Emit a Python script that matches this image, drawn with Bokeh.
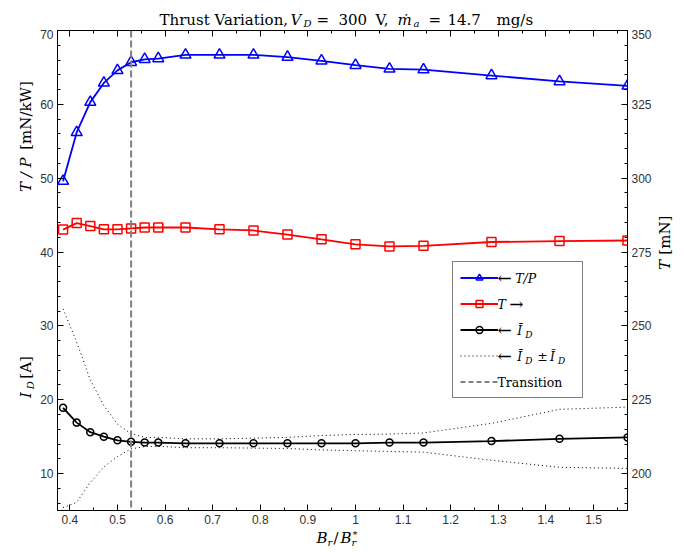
import math
from bokeh.plotting import figure
from bokeh.layouts import column, row
from bokeh.models import (Range1d, LinearAxis, FixedTicker, Span, Label, Legend,
                          LegendItem, CustomJSTickFormatter)
from bokeh.embed import file_html
from bokeh.resources import INLINE

# ---------------- data ----------------
br_ratio = [0.3857, 0.4143, 0.4429, 0.4714, 0.5, 0.5286, 0.5571, 0.5857, 0.6429,
            0.7143, 0.7857, 0.8571, 0.9286, 1.0, 1.0714, 1.1429, 1.2857, 1.4286, 1.5714]
thrust_to_power = [49.6, 56.2, 60.3, 62.9, 64.6, 65.7, 66.1, 66.2, 66.7,
                   66.7, 66.7, 66.4, 65.9, 65.3, 64.8, 64.7, 63.9, 63.1, 62.5]
thrust = [282.6, 284.8, 283.8, 282.7, 282.7, 283.0, 283.3, 283.3, 283.3,
          282.7, 282.3, 280.9, 279.3, 277.6, 276.9, 277.1, 278.4, 278.7, 278.9]
current_mean = [18.9, 16.9, 15.6, 15.0, 14.5, 14.3, 14.2, 14.2, 14.1,
                14.1, 14.1, 14.1, 14.1, 14.1, 14.2, 14.2, 14.4, 14.7, 14.9]
current_upper = [32.3, 27.8, 22.7, 19.2, 16.7, 15.4, 14.9, 14.9, 14.7,
                 14.7, 14.8, 14.9, 15.15, 15.3, 15.35, 15.5, 16.8, 18.7, 19.0]
current_lower = [5.4, 6.1, 8.8, 10.9, 12.3, 13.35, 13.65, 13.7, 13.5,
                 13.5, 13.45, 13.4, 13.2, 13.1, 13.0, 12.9, 11.8, 10.85, 10.7]
transition_br = [0.5286]

x_tick_values = [0.4, 0.5, 0.6, 0.7, 0.8, 0.9, 1.0, 1.1, 1.2, 1.3, 1.4, 1.5]
x_tick_labels = ["0.4", "0.5", "0.6", "0.7", "0.8", "0.9", "1", "1.1", "1.2", "1.3", "1.4", "1.5"]
x_minor_values = [0.4, 0.45, 0.5, 0.55, 0.6, 0.65, 0.7, 0.75, 0.8, 0.85, 0.9, 0.95, 1.0,
                  1.05, 1.1, 1.15, 1.2, 1.25, 1.3, 1.35, 1.4, 1.45, 1.5, 1.55]
left_tick_values = [10, 20, 30, 40, 50, 60, 70]
left_minor_values = [6, 8, 10, 12, 14, 16, 18, 20, 22, 24, 26, 28, 30, 32, 34, 36, 38, 40,
                     42, 44, 46, 48, 50, 52, 54, 56, 58, 60, 62, 64, 66, 68, 70]
right_tick_values = [200, 225, 250, 275, 300, 325, 350]
right_minor_values = [190, 195, 200, 205, 210, 215, 220, 225, 230, 235, 240, 245, 250, 255,
                      260, 265, 270, 275, 280, 285, 290, 295, 300, 305, 310, 315, 320, 325,
                      330, 335, 340, 345, 350]

# ---------------- page layout (pixels) ----------------
W, H = 684, 552
FL, FR, FT, FB = 55, 629, 30, 510          # plot frame on the page
LEFT_W, RIGHT_W = 37, 30                    # side text strips
TOP_H, BOTTOM_H = 29, 24                    # title strip / x-label strip
MID_H = H - TOP_H - BOTTOM_H
MAIN_W = W - LEFT_W - RIGHT_W
XMIN, XMAX = 0.374, 1.5714
YMIN, YMAX = 5.0, 70.0
RMIN, RMAX = 187.5, 350.0

SERIF = "DejaVu Serif"
TICK_FONT = "Liberation Sans"
SHIFT = 0.4          # Bokeh draws "alphabetic" text about 0.4 em low; compensate


def dx(px):
    return XMIN + (px - FL) / (FR - FL) * (XMAX - XMIN)


def dy(py):
    return YMAX - (py - FT) / (FB - FT) * (YMAX - YMIN)


def blank(fig):
    fig.outline_line_color = None
    fig.background_fill_color = "white"
    fig.border_fill_color = "white"
    return fig


def strip(w, h):
    f = figure(width=w, height=h, x_range=Range1d(0, w), y_range=Range1d(h, 0),
               output_backend="svg", toolbar_location=None, x_axis_type=None,
               y_axis_type=None, min_border=0, min_border_left=0, min_border_right=0,
               min_border_top=0, min_border_bottom=0)
    return blank(f)


def put(fig, text, px, py, size, style="normal", rotated=False, to_data=None):
    """px, py: wanted baseline start in the figure's pixel space."""
    if rotated:
        px -= SHIFT * size
    else:
        py -= SHIFT * size
    x, y = (px, py) if to_data is None else to_data(px, py)
    fig.add_layout(Label(x=x, y=y, text=text, text_font=SERIF, text_font_size=f"{size}px",
                         text_font_style=style, text_align="left",
                         text_baseline="alphabetic", angle=math.pi / 2 if rotated else 0.0,
                         text_color="black"))


# ---------------- main plot ----------------
p = figure(width=MAIN_W, height=MID_H, x_range=Range1d(XMIN, XMAX),
           y_range=Range1d(YMIN, YMAX), output_backend="svg", toolbar_location=None,
           min_border_left=FL - LEFT_W, min_border_right=LEFT_W + MAIN_W - FR,
           min_border_top=FT - TOP_H, min_border_bottom=TOP_H + MID_H - FB)
blank(p)
p.extra_y_ranges = {"right": Range1d(RMIN, RMAX)}
p.grid.visible = False
p.outline_line_color = "black"
p.outline_line_width = 1


def style_axis(ax):
    ax.axis_line_color = "black"
    ax.major_tick_line_color = "black"
    ax.minor_tick_line_color = "black"
    ax.major_tick_in = 6
    ax.major_tick_out = 0
    ax.minor_tick_in = 3
    ax.minor_tick_out = 0
    ax.major_label_text_font = TICK_FONT
    ax.major_label_text_font_size = "12px"
    ax.major_label_text_color = "#333333"
    ax.major_label_standoff = 4


xaxis = p.xaxis[0]
xaxis.ticker = FixedTicker(ticks=x_tick_values, minor_ticks=x_minor_values)
xaxis.major_label_overrides = dict(zip(x_tick_values, x_tick_labels))
style_axis(xaxis)

yaxis = p.yaxis[0]
yaxis.ticker = FixedTicker(ticks=left_tick_values, minor_ticks=left_minor_values)
style_axis(yaxis)

top_axis = LinearAxis(ticker=FixedTicker(ticks=x_tick_values, minor_ticks=x_minor_values),
                      formatter=CustomJSTickFormatter(code="return ''"))
style_axis(top_axis)
top_axis.major_label_text_font_size = "0px"
top_axis.major_label_text_color = None
top_axis.major_label_standoff = 0
p.add_layout(top_axis, "above")

right_axis = LinearAxis(y_range_name="right",
                        ticker=FixedTicker(ticks=right_tick_values, minor_ticks=right_minor_values))
style_axis(right_axis)
p.add_layout(right_axis, "right")

# series
dot_up = p.line(br_ratio, current_upper, line_color="black", line_width=1, line_dash="1 3")
dot_lo = p.line(br_ratio, current_lower, line_color="black", line_width=1, line_dash="1 3")

p.add_layout(Span(location=transition_br[0], dimension="height", line_color="#7f7f7f",
                  line_width=2, line_dash="7 3"))
trans_legend = p.line(x=transition_br, y=[float("nan")], line_color="black",
                      line_width=1, line_dash="5 3")

blue_l = p.line(br_ratio, thrust_to_power, line_color="#0000ff", line_width=1.8)
blue_m = p.scatter(br_ratio, thrust_to_power, marker="triangle", size=11,
                   line_color="#0000ff", line_width=1.5, fill_alpha=0)

red_l = p.line(br_ratio, thrust, line_color="#ff0000", line_width=1.8, y_range_name="right")
red_m = p.scatter(br_ratio, thrust, marker="square", size=9, line_color="#ff0000",
                  line_width=1.5, fill_alpha=0, y_range_name="right")

blk_l = p.line(br_ratio, current_mean, line_color="black", line_width=1.8)
blk_m = p.scatter(br_ratio, current_mean, marker="circle", size=7, line_color="black",
                  line_width=1.5, fill_alpha=0)

legend = Legend(items=[
    LegendItem(label=" ", renderers=[blue_l, blue_m]),
    LegendItem(label=" ", renderers=[red_l, red_m]),
    LegendItem(label=" ", renderers=[blk_l, blk_m]),
    LegendItem(label=" ", renderers=[dot_up]),
    LegendItem(label=" ", renderers=[trans_legend]),
], location=(450 - FL, FB - 398), glyph_width=38, glyph_height=17, label_height=17,
    label_width=74, label_standoff=3, spacing=9, padding=7, margin=0,
    border_line_color="black", border_line_width=1, background_fill_alpha=0,
    label_text_font_size="1px")
p.add_layout(legend)


def page2data(px, py):
    return dx(px), dy(py)


def ltxt(text, px, py, size, style="normal"):
    put(p, text, px, py, size, style, to_data=page2data)


LS = 12.5
AS = 17           # arrows are long in the reference
rows = [278.5, 304.5, 330.5, 356.5, 382.5]
b = [r + 4.5 for r in rows]
ltxt("←", 498, b[0] + 1.5, AS)
ltxt("T/P", 516, b[0], LS, "italic")
ltxt("T", 498, b[1], LS, "italic")
ltxt("→", 510, b[1] + 1.5, AS)
ltxt("←", 498, b[2] + 1.5, AS)
ltxt("Ī", 518, b[2], LS, "italic")
ltxt("D", 526, b[2] + 3, 9, "italic")
ltxt("←", 498, b[3] + 1.5, AS)
ltxt("Ī", 518, b[3], LS, "italic")
ltxt("D", 526, b[3] + 3, 9, "italic")
ltxt("±", 538, b[3], LS)
ltxt("Ĩ", 551, b[3], LS, "italic")
ltxt("D", 559, b[3] + 3, 9, "italic")
ltxt("Transition", 498, b[4], LS)

# ---------------- title strip ----------------
top = strip(W, TOP_H)
TB = 25
put(top, "Thrust Variation,", 159, TB, 15)
put(top, "V", 290, TB, 15, "italic")
put(top, "D", 303, TB + 1.5, 10, "italic")
put(top, "=", 316, TB, 15)
put(top, "300", 338, TB, 15)
put(top, "V,", 375, TB, 15)
put(top, "ṁ", 397, TB, 15, "italic")
put(top, "a", 413, TB + 1.5, 10, "italic")
put(top, "=", 428, TB, 15)
put(top, "14.7", 447, TB, 15)
put(top, "mg/s", 496, TB, 15)

# ---------------- left strip (rotated labels) ----------------
left = strip(LEFT_W, MID_H)
LB = 31
put(left, "T / P", LB, 197 - TOP_H, 15, "italic", True)
put(left, "[mN/kW]", LB, 153 - TOP_H, 15, "normal", True)
put(left, "I", LB, 411 - TOP_H, 15, "italic", True)
put(left, "D", LB + 3, 402 - TOP_H, 10, "italic", True)
put(left, "[A]", LB, 391 - TOP_H, 15, "normal", True)

# ---------------- right strip ----------------
OX = LEFT_W + MAIN_W
right = strip(RIGHT_W, MID_H)
put(right, "T", 670 - OX, 278 - TOP_H, 15, "italic", True)
put(right, "[mN]", 670 - OX, 262 - TOP_H, 15, "normal", True)

# ---------------- bottom strip (x label) ----------------
bot = strip(W, BOTTOM_H)
OY = TOP_H + MID_H
XB = 543 - OY
put(bot, "B", 316, XB, 15, "italic")
put(bot, "r", 327, XB + 3, 10, "italic")
put(bot, "/", 333, XB, 15)
put(bot, "B", 340, XB, 15, "italic")
put(bot, "r", 351, XB + 3, 10, "italic")
put(bot, "*", 352, XB - 5, 10)

page = column(top, row(left, p, right, spacing=0), bot, spacing=0)
open("out.html", "w").write(file_html(page, INLINE))
